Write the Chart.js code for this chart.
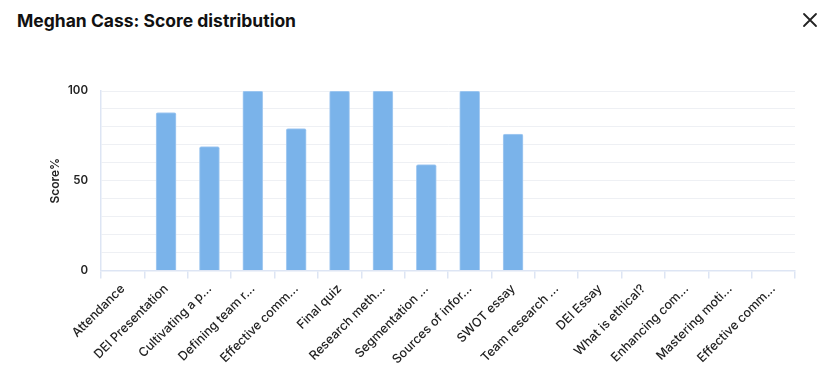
<!DOCTYPE html>
<html>
<head>
<meta charset="utf-8">
<script src="https://cdn.jsdelivr.net/npm/chart.js@4.4.1/dist/chart.umd.min.js"></script>
<style>
  html, body { margin: 0; padding: 0; background: #fff; }
  body { width: 837px; height: 392px; position: relative; overflow: hidden; font-family: Inter, "Noto Sans", sans-serif; }
  .title { position: absolute; left: 17px; top: 10px; font-size: 17.5px; font-weight: 700; color: #111; }
  .close { position: absolute; left: 802px; top: 12px; width: 16px; height: 16px; }
  .wrap { position: absolute; left: 0; top: 0; width: 837px; height: 392px; }
</style>
</head>
<body>
<div class="title">Meghan Cass: Score distribution</div>
<svg class="close" viewBox="0 0 16 16"><path d="M2 2 L14 14 M14 2 L2 14" stroke="#222" stroke-width="1.8" stroke-linecap="round"/></svg>
<div class="wrap"><canvas id="myChart"></canvas></div>
<script>
const categories = [
  'Attendance', 'DEI Presentation', 'Cultivating a p...', 'Defining team r...',
  'Effective comm...', 'Final quiz', 'Research meth...', 'Segmentation ...',
  'Sources of infor...', 'SWOT essay', 'Team research ...', 'DEI Essay',
  'What is ethical?', 'Enhancing com...', 'Mastering moti...', 'Effective comm...'
];
const scores = [0, 88, 69, 100, 79, 100, 100, 59, 100, 76, 0, 0, 0, 0, 0, 0];
const yTickLabels = [0, 50, 100];

(() => {
  const ctx = document.getElementById('myChart');
  const family = 'Inter, "Noto Sans", sans-serif';
  const config = {
    type: 'bar',
    data: {
      labels: categories,
      datasets: [{
        label: 'Score%',
        data: scores,
        backgroundColor: '#7ab3ea',
        borderColor: '#a9cdf2',
        borderWidth: 1,
        borderRadius: 2,
        borderSkipped: 'bottom',
        barThickness: 20
      }]
    },
    options: {
      responsive: true,
      maintainAspectRatio: false,
      animation: false,
      layout: { padding: { left: 18, top: 91, right: 42, bottom: 22 } },
      plugins: { legend: { display: false }, tooltip: { enabled: false } },
      scales: {
        x: {
          // let the rotated first label hang past the y axis, like the original
          afterFit: (scale) => { scale.paddingLeft = 0; },
          grid: { offset: true, drawOnChartArea: false, drawTicks: true, tickLength: 8, color: '#dde5f4', lineWidth: 1.5 },
          border: { color: '#dde5f4', width: 1.5 },
          ticks: { color: '#222', font: { family: family, size: 12.5, weight: '500' }, minRotation: 45, maxRotation: 45, autoSkip: false, padding: 3 }
        },
        y: {
          min: 0,
          max: 100,
          afterFit: (scale) => { scale.width = 83; },
          grid: { color: '#eef0f4', drawTicks: false },
          border: { color: '#dde5f4', width: 1.5 },
          ticks: {
            stepSize: 10,
            padding: 13,
            color: '#222',
            font: { family: family, size: 11.5, weight: '600' },
            callback: (v) => yTickLabels.includes(v) ? v : ''
          },
          title: { display: true, text: 'Score%', color: '#222', font: { family: family, size: 12, weight: '600' }, padding: { top: 30, bottom: 2 } }
        }
      }
    }
  };
  new Chart(ctx, config);
})();
</script>
</body>
</html>
